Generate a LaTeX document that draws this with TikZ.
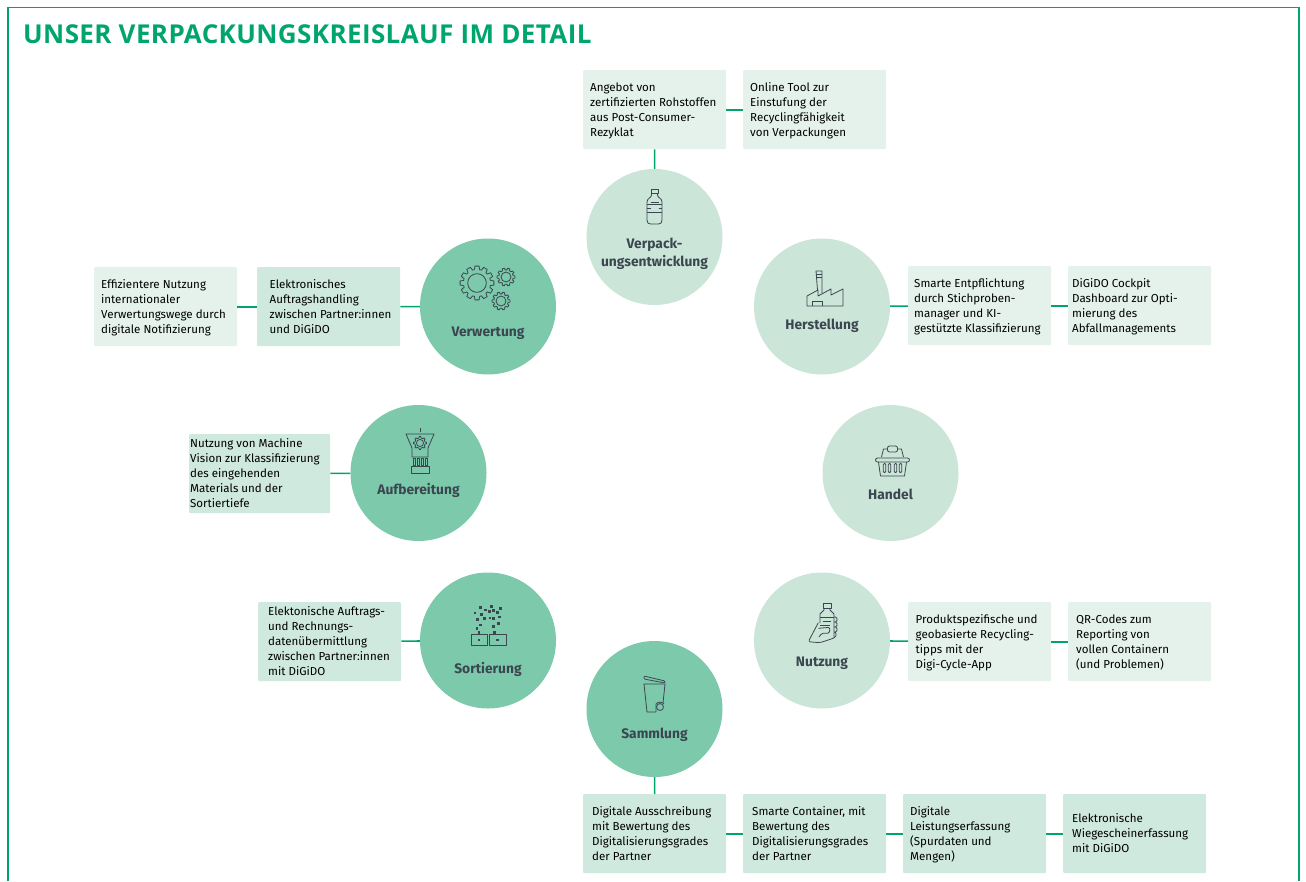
\documentclass[tikz,border=0pt]{standalone}
\usepackage{fontspec}
\setmainfont{Fira Sans}
\newfontfamily\titelfont[LetterSpace=1.5]{Open Sans}
\usepackage{tikz}
\usetikzlibrary{positioning}
\definecolor{rahmen}{HTML}{00A56B}
\definecolor{kreisA}{HTML}{CBE5D8}
\definecolor{kreisB}{HTML}{7CC9AB}
\definecolor{boxA}{HTML}{E5F2EC}
\definecolor{boxB}{HTML}{D0E9DE}
\definecolor{ikon}{HTML}{3C4650}
\tikzset{
	kreis/.style={circle,minimum size=136pt,inner sep=0pt},
	kreistext/.style={inner sep=0pt,text=ikon,font=\fontsize{13.8}{18}\selectfont\bfseries,align=center},
	infobox/.style={rounded corners=1pt,minimum width=143pt,minimum height=79pt,inner sep=0pt,anchor=north west},
	infotext/.style={inner sep=0pt,anchor=west,yshift=-1pt,font=\fontsize{11.55}{15}\selectfont,text=black,align=left},
	verbinder/.style={draw=rahmen,line width=1.6pt},
	ikonlinie/.style={draw=ikon,line width=0.8pt,line join=round,fill=none},
}
\begin{document}
\begin{tikzpicture}[x=1pt,y=-1pt]
	\useasboundingbox (0,0) rectangle (1306,881);
	\def\mybox#1#2#3#4#5{
		\node[infobox,fill=#4] (#1) at #2 {};
		\node[infotext,xshift=#3pt] (#1Text) at (#1.west) {\strut#5\strut};
	}
	\def\mygear#1#2#3#4{
		\draw[ikonlinie] (#1,#2) circle (#3*0.55);
		\foreach \a in {1,...,#4} {
			\draw[ikonlinie] ({#1+(#3*0.8)*cos(\a*360/#4-11)},{#2+(#3*0.8)*sin(\a*360/#4-11)}) -- ({#1+#3*cos(\a*360/#4-7)},{#2+#3*sin(\a*360/#4-7)}) -- ({#1+#3*cos(\a*360/#4+7)},{#2+#3*sin(\a*360/#4+7)}) -- ({#1+(#3*0.8)*cos(\a*360/#4+11)},{#2+(#3*0.8)*sin(\a*360/#4+11)}) -- ({#1+(#3*0.8)*cos((\a+1)*360/#4-11)},{#2+(#3*0.8)*sin((\a+1)*360/#4-11)});
		}
	}

	% Rahmen und Titel
	\draw[rahmen,line width=1.5pt] (8,881) -- (8,7.5) -- (1299,7.5) -- (1299,881);
	\node[anchor=west,inner sep=0pt,text=rahmen,font=\titelfont\fontsize{26}{28}\selectfont\bfseries] (titel) at (23,34) {UNSER VERPACKUNGSKREISLAUF IM DETAIL};

	% Kreise
	\node[kreis,fill=kreisA] (verpackung) at (654.5,237) {};
	\node[kreis,fill=kreisA] (herstellung) at (822,306.5) {};
	\node[kreis,fill=kreisA] (handel) at (890.5,473) {};
	\node[kreis,fill=kreisA] (nutzung) at (822,640.5) {};
	\node[kreis,fill=kreisB] (sammlung) at (654.5,709) {};
	\node[kreis,fill=kreisB] (sortierung) at (488,640.5) {};
	\node[kreis,fill=kreisB] (aufbereitung) at (418.5,473) {};
	\node[kreis,fill=kreisB] (verwertung) at (488,306.5) {};

	\node[kreistext] (lblVerpackung) at (654.5,254) {Verpack-\\ungsentwicklung};
	\node[kreistext] (lblHerstellung) at (822,326) {Herstellung};
	\node[kreistext] (lblHandel) at (890.5,494) {Handel};
	\node[kreistext] (lblNutzung) at (822,663) {Nutzung};
	\node[kreistext] (lblSammlung) at (654.5,735) {Sammlung};
	\node[kreistext] (lblSortierung) at (488,669) {Sortierung};
	\node[kreistext] (lblAufbereitung) at (418.5,490) {Aufbereitung};
	\node[kreistext] (lblVerwertung) at (488,333) {Verwertung};

	% Textfelder
	\mybox{angebot}{(583,70)}{7}{boxA}{Angebot von\\zertifizierten Rohstoffen\\aus Post-Consumer-\\Rezyklat}
	\mybox{online}{(743,70)}{7}{boxA}{Online Tool zur\\Einstufung der\\Recyclingfähigkeit\\von Verpackungen}
	\mybox{smarte}{(908,266)}{6}{boxA}{Smarte Entpflichtung\\durch Stichproben-\\manager und KI-\\gestützte Klassifizierung}
	\mybox{cockpit}{(1068,266)}{4}{boxA}{DiGiDO Cockpit\\Dashboard zur Opti-\\mierung des\\Abfallmanagements}
	\mybox{produkt}{(908,602)}{7.5}{boxA}{Produktspezifische und\\geobasierte Recycling-\\tipps mit der\\Digi-Cycle-App}
	\mybox{qrcodes}{(1068,602)}{8}{boxA}{QR-Codes zum\\Reporting von\\vollen Containern\\(und Problemen)}
	\mybox{ausschreibung}{(583,794)}{9}{boxB}{Digitale Ausschreibung\\mit Bewertung des\\Digitalisierungsgrades\\der Partner}
	\mybox{container}{(743,794)}{9}{boxB}{Smarte Container, mit\\Bewertung des\\Digitalisierungsgrades\\der Partner}
	\mybox{leistung}{(903,794)}{7}{boxB}{Digitale\\Leistungserfassung\\(Spurdaten und\\Mengen)}
	\mybox{wiege}{(1063,794)}{9}{boxB}{Elektronische\\Wiegescheinerfassung\\mit DiGiDO}
	\mybox{auftrag}{(258,602)}{10}{boxB}{Elektonische Auftrags-\\und Rechnungs-\\datenübermittlung\\zwischen Partner:innen\\mit DiGiDO}
	\node[infobox,fill=boxB,minimum width=141pt] (vision) at (189,434) {};
	\node[infotext,xshift=1pt] (visionText) at (vision.west) {\strut Nutzung von Machine\\Vision zur Klassifizierung\\des eingehenden\\Materials und der\\Sortiertiefe\strut};
	\mybox{handling}{(257,267)}{12.5}{boxB}{Elektronisches\\Auftragshandling\\zwischen Partner:innen\\und DiGiDO}
	\mybox{effizient}{(94,267)}{7}{boxA}{Effizientere Nutzung\\internationaler\\Verwertungswege durch\\digitale Notifizierung}

	% Verbindungen
	\draw[verbinder] (angebot) -- (verpackung);
	\draw[verbinder] (angebot) -- (online);
	\draw[verbinder] (herstellung) -- (smarte);
	\draw[verbinder] (smarte) -- (cockpit);
	\draw[verbinder] (nutzung) -- (produkt);
	\draw[verbinder] (produkt) -- (qrcodes);
	\draw[verbinder] (sammlung) -- (ausschreibung);
	\draw[verbinder] (ausschreibung) -- (container);
	\draw[verbinder] (container) -- (leistung);
	\draw[verbinder] (leistung) -- (wiege);
	\draw[verbinder] (sortierung) -- (auftrag);
	\draw[verbinder] (aufbereitung) -- (vision);
	\draw[verbinder] (verwertung) -- (handling);
	\draw[verbinder] (handling) -- (effizient);

	% Flasche
	\begin{scope}[shift={(654.5,207)}]
		\draw[ikonlinie] (-3.5,-18) rectangle (3.5,-14);
		\draw[ikonlinie] (-3,-14) -- (-3,-12) .. controls (-3,-9) and (-7.5,-9) .. (-7.5,-5) -- (-7.5,13) .. controls (-7.5,16) and (-6,17) .. (-4,17) -- (4,17) .. controls (6,17) and (7.5,16) .. (7.5,13) -- (7.5,-5) .. controls (7.5,-9) and (3,-9) .. (3,-12) -- (3,-14);
		\draw[ikonlinie] (-7.5,-3) -- (7.5,-3) (-7.5,1) -- (-4,1) (4,1) -- (7.5,1) (-7.5,5) -- (7.5,5) (-4,-5) -- (4,-5);
	\end{scope}

	% Fabrik
	\begin{scope}[shift={(825,288)}]
		\draw[ikonlinie] (-18,18) -- (18,18) -- (18,1) -- (6,7) -- (6,1) -- (-7,8) -- (-7,2) -- (-18,8) -- cycle;
		\draw[ikonlinie] (-7.5,2) -- (-9,-17) -- (-3,-17) -- (-3,5);
		\draw[ikonlinie] (-8.8,-14) -- (-3,-14) (-8.6,-11) -- (-3,-11);
		\draw[ikonlinie] (-13,18) -- (-13,13) -- (-3,13) -- (-3,18);
	\end{scope}

	% Korb
	\begin{scope}[shift={(892.5,462)}]
		\draw[ikonlinie] (-11,-5) -- (-9,-13) -- (-5,-13) (5,-13) -- (9,-13) -- (11,-5);
		\draw[ikonlinie,rounded corners=2pt] (-5,-16) rectangle (5,-10);
		\draw[ikonlinie,rounded corners=2pt] (-17,-4) rectangle (17,0);
		\draw[ikonlinie] (-14,0) -- (-12,14) -- (12,14) -- (14,0);
		\foreach \x in {-8,-3,3,8} {
			\draw[ikonlinie,rounded corners=1pt] (\x-1.2,1.5) rectangle (\x+1.2,10.5);
		}
	\end{scope}

	% Flasche in der Hand
	\begin{scope}[shift={(827,620)}]
		\draw[ikonlinie] (-4,-17) rectangle (4,-12);
		\draw[ikonlinie] (-3,-12) -- (-3,-10) -- (-7,-6) -- (-7,3) (3,-12) -- (3,-10) -- (7,-6) -- (7,17);
		\draw[ikonlinie] (-7,-3) -- (7,-3) (-4,1) -- (4,1) (-7,5) -- (3,5);
		\draw[ikonlinie,rounded corners=2pt] (-8.7,2.7) -- (-18.7,21.7) -- (-7,22.7) -- (6.3,18.3);
		\draw[ikonlinie,rounded corners=1.5pt] (-8.7,8.3) -- (3,7.3) -- (2.3,13.3) -- (-5.3,13.3) -- (-8,17);
		\draw[ikonlinie,rounded corners=1.5pt] (7,-3) -- (10,-3) -- (10,2) -- (7,2) (7,2) -- (10,2) -- (10,7) -- (7,7) (7,7) -- (10,7) -- (10,12) -- (7,12) (7,12) -- (9,12) -- (9,17) -- (6,18);
	\end{scope}

	% Tonne
	\begin{scope}[shift={(654,695)}]
		\draw[ikonlinie] (2,17) -- (-7,17) -- (-10,-11) -- (11,-11) -- (9,8);
		\draw[ikonlinie,rounded corners=1pt] (-10,-19) -- (11,-14) -- (11,-12) -- (-10,-16) -- cycle;
		\draw[ikonlinie] (6,12) circle (3.5);
		\draw[ikonlinie] (10,9) .. controls (8,6.5) and (4,6.5) .. (2,9) -- (2,17);
	\end{scope}

	% Partikel
	\begin{scope}[shift={(488,625)}]
		\foreach \x/\y in {-7.7/-17.7,3.3/-18.3,12.3/-16.3,-2.7/-15,1.3/-13.7,5.7/-14.7,9.3/-12.3,-13/-12,-6.7/-10.7,-10.7/-5.7,-3.7/-6.7,2/-7,5.7/-6.3,11.7/-8,10.3/-1.7,-7.7/0,5.7/1.7,-11/3.3,-9/7.7,6.3/7.7,-9/15,9.3/15} {
			\fill[ikon] (\x-1.3,\y-1.3) rectangle (\x+1.3,\y+1.3);
		}
		\draw[ikonlinie] (-17,9.3) rectangle (-1,20.7);
		\draw[ikonlinie] (1.3,9.3) rectangle (18,20.7);
	\end{scope}

	% Trichter
	\begin{scope}[shift={(420,445)}]
		\draw[ikonlinie] (0,-17) -- (0,-13);
		\draw[ikonlinie] (-14,-11) -- (14,-11) -- (8,3) -- (8,12) -- (-8,12) -- (-8,3) -- cycle;
		\mygear{0}{-2}{6.5}{8}
		\foreach \x in {-6,-2,2,6} {
			\draw[ikonlinie] (\x-1,13) rectangle (\x+1,20);
		}
		\draw[ikonlinie] (-9,21) rectangle (9,28);
	\end{scope}

	% Zahnraeder
	\begin{scope}[shift={(477,283)}]
		\mygear{0}{0}{17}{12}
		\mygear{29}{-6}{9}{10}
		\mygear{24}{18}{9}{10}
	\end{scope}
\end{tikzpicture}
\end{document}
